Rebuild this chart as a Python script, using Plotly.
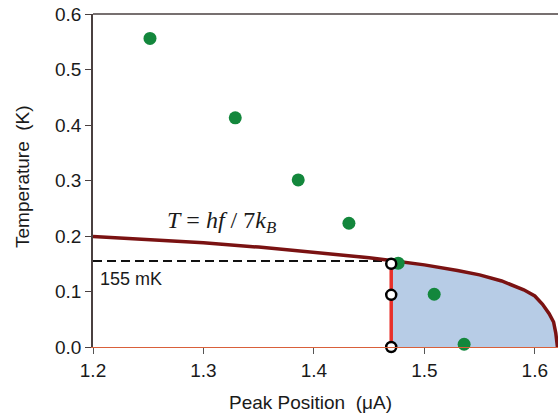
import plotly.graph_objects as go

# Measured data points (green)
peak_pos = [1.2516, 1.3288, 1.3858, 1.4317, 1.4763, 1.5089, 1.536]
temp_meas = [0.556, 0.413, 0.301, 0.223, 0.151, 0.095, 0.005]

# Theory curve T = hf/7kB
curve_x = [1.20, 1.25, 1.30, 1.35, 1.40, 1.45, 1.47, 1.50, 1.53, 1.55, 1.57,
           1.59, 1.60, 1.607, 1.613, 1.617, 1.619, 1.6205]
curve_t = [0.199, 0.194, 0.188, 0.180, 0.171, 0.161, 0.156, 0.148, 0.138, 0.130,
           0.119, 0.103, 0.092, 0.077, 0.060, 0.045, 0.025, 0.0]

# Shaded region bounds and threshold
cut_x = 1.47
threshold_t = 0.155
open_x = [1.47, 1.47, 1.47]
open_t = [0.150, 0.094, 0.0]

x_ticks = [1.2, 1.3, 1.4, 1.5, 1.6]
y_ticks = [0.0, 0.1, 0.2, 0.3, 0.4, 0.5, 0.6]

fig = go.Figure()

# shaded area under curve for x >= cut_x
fill_x = [cut_x] + [x for x in curve_x if x > cut_x]
fill_t = [threshold_t] + [t for x, t in zip(curve_x, curve_t) if x > cut_x]
fig.add_trace(go.Scatter(
    x=fill_x + [fill_x[-1], cut_x], y=fill_t + [0, 0],
    fill="toself", fillcolor="#b7cce6", line=dict(width=0),
    mode="lines", hoverinfo="skip", showlegend=False))

# dashed 155 mK line
fig.add_trace(go.Scatter(
    x=[x_ticks[0], cut_x], y=[threshold_t, threshold_t], mode="lines",
    line=dict(color="#111111", width=2, dash="9px,5px"), showlegend=False))

# red vertical line
fig.add_trace(go.Scatter(
    x=[cut_x, cut_x], y=[0, threshold_t], mode="lines",
    line=dict(color="#e8302a", width=3.5), showlegend=False))

# theory curve
fig.add_trace(go.Scatter(
    x=curve_x, y=curve_t, mode="lines",
    line=dict(color="#7a1212", width=3.5), showlegend=False))

# green data points
fig.add_trace(go.Scatter(
    x=peak_pos, y=temp_meas, mode="markers",
    marker=dict(color="#13873c", size=13), showlegend=False, cliponaxis=False))

# open circles
fig.add_trace(go.Scatter(
    x=open_x, y=open_t, mode="markers",
    marker=dict(color="white", size=10, line=dict(color="black", width=2.5)),
    showlegend=False, cliponaxis=False))

font_family = "Liberation Sans, Arial, sans-serif"
text_color = "#1a1a1a"

fig.add_annotation(x=1.2344, y=0.1234, xref="x", yref="y",
                   text="155 mK", showarrow=False,
                   font=dict(family=font_family, size=18, color=text_color))
fig.add_annotation(x=1.316, y=0.226, xref="x", yref="y",
                   text="<i>T</i> = <i>hf</i> / 7<i>k</i><sub><i>B</i></sub>",
                   showarrow=False,
                   font=dict(family="Liberation Serif, Times New Roman, serif",
                             size=24, color=text_color))

# axis titles
fig.add_annotation(x=0.467, y=-0.168, xref="paper", yref="paper",
                   text="Peak Position  (\u03bcA)", showarrow=False,
                   xanchor="center", yanchor="middle",
                   font=dict(family=font_family, size=19, color=text_color))
fig.add_annotation(x=-0.1528, y=0.5135, xref="paper", yref="paper",
                   text="Temperature  (K)", showarrow=False, textangle=-90,
                   xanchor="center", yanchor="middle",
                   font=dict(family=font_family, size=19, color=text_color))

fig.update_layout(
    width=559, height=415,
    margin=dict(l=93, r=1.3, t=14, b=68),
    paper_bgcolor="white", plot_bgcolor="white",
    font=dict(family=font_family, size=19, color=text_color),
    shapes=[dict(type="line", xref="paper", yref="paper", x0=0, x1=1, y0=1, y1=1,
                 line=dict(color="#4a4040", width=1.5))],
)
fig.update_xaxes(
    range=[1.2, 1.621], tickvals=x_ticks, ticktext=[f"{v:.1f}" for v in x_ticks],
    showgrid=False, zeroline=False, showline=True, linecolor="#d9603a", linewidth=1.2,
    ticks="outside", ticklen=6, tickcolor="#555555", tickwidth=1,
    tickfont=dict(size=19), automargin=False)
fig.update_yaxes(
    range=[0, 0.6], tickvals=y_ticks, ticktext=[f"{v:.1f}" for v in y_ticks],
    showgrid=False, zeroline=False, showline=True, linecolor="#4a4040", linewidth=1.5,
    ticks="outside", ticklen=6, tickcolor="#4a4040", tickwidth=1,
    tickfont=dict(size=19), automargin=False)

# remove the default page margin so the figure sits at the window origin
fig.write_html("out.html",
               config={"displayModeBar": False},
               post_script="document.body.style.margin='0px';"
                           "document.body.style.overflow='hidden';")
